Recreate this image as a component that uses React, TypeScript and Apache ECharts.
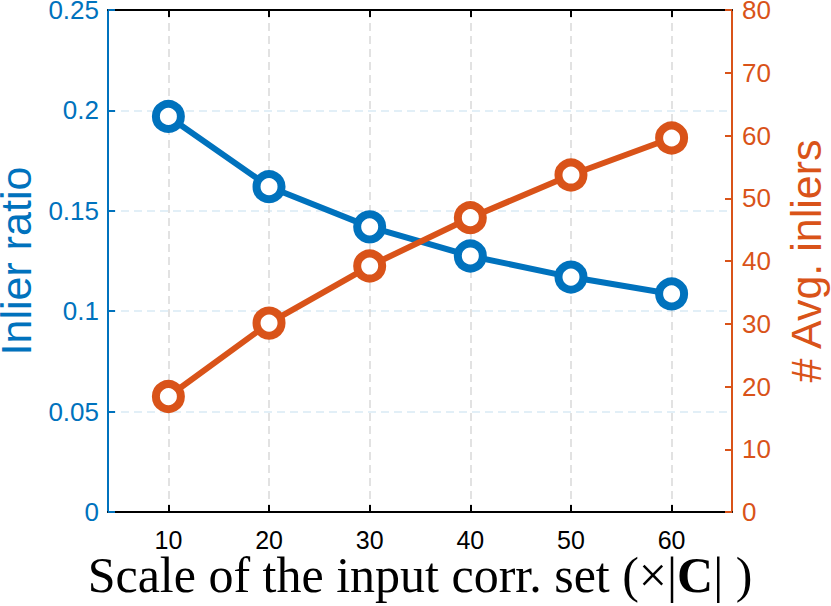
import React, { useEffect, useRef } from "react";
import * as echarts from "echarts";

const xValues = [10, 20, 30, 40, 50, 60];
const inlierRatio = [0.197, 0.162, 0.142, 0.1275, 0.117, 0.1086];
const avgInliers = [18.4, 30.1, 39.2, 46.9, 53.7, 59.6];
const xTicks = [10, 20, 30, 40, 50, 60];

const BLUE = "#0072BD";
const ORANGE = "#D95319";
const SANS = "Liberation Sans";
const SERIF = "Liberation Serif";

export default function App() {
  const ref = useRef<HTMLDivElement>(null);
  useEffect(() => {
    if (!ref.current) return;
    const chart = echarts.init(ref.current, undefined, { renderer: "svg" });
    const tickStyle = { inside: true, length: 7 };
    chart.setOption({
      animation: false,
      backgroundColor: "#ffffff",
      grid: {
        left: 108,
        right: 99,
        top: 10,
        bottom: 94,
        containLabel: false,
        outerBoundsMode: "none",
      },
      graphic: [
        {
          type: "text",
          z: 10,
          style: {
            x: 420,
            y: 575,
            align: "center",
            verticalAlign: "middle",
            text: "{a|Scale of the input corr. set (×|}{b|C}{a|| )}",
            rich: {
              a: { fontFamily: SERIF, fontSize: 50, lineHeight: 44, fill: "#000", color: "#000" },
              b: { fontFamily: SERIF, fontSize: 50, lineHeight: 44, fontWeight: "bold", fill: "#000", color: "#000" },
            },
          },
        },
      ],
      xAxis: [
        {
          type: "value",
          min: 4,
          max: 66,
          position: "bottom",
          axisLine: { show: true, onZero: false, lineStyle: { color: "#000", width: 2 } },
          axisTick: { ...tickStyle, customValues: xTicks, lineStyle: { color: "#000", width: 2 } },
          axisLabel: {
            customValues: xTicks,
            color: "#000",
            fontFamily: SANS,
            fontSize: 25,
            lineHeight: 22,
            margin: 17,
          },
          splitLine: {
            show: true,
            lineStyle: { color: "#d9d9d9", width: 1.5, type: [8, 5] },
          },
        },
        {
          type: "value",
          min: 4,
          max: 66,
          position: "top",
          axisLine: { show: true, onZero: false, lineStyle: { color: "#000", width: 2 } },
          axisTick: { ...tickStyle, customValues: xTicks, lineStyle: { color: "#000", width: 2 } },
          axisLabel: { show: false, customValues: xTicks },
          splitLine: { show: false },
        },
      ],
      yAxis: [
        {
          type: "value",
          min: 0,
          max: 0.25,
          interval: 0.05,
          position: "left",
          axisLine: { show: true, onZero: false, lineStyle: { color: BLUE, width: 2 } },
          axisTick: { ...tickStyle, lineStyle: { color: BLUE, width: 2 } },
          axisLabel: { color: BLUE, fontFamily: SANS, fontSize: 26, lineHeight: 20, margin: 9 },
          splitLine: {
            show: true,
            lineStyle: { color: "#d9eaf5", width: 1.5, type: [8, 5] },
          },
          name: "Inlier ratio",
          nameLocation: "middle",
          nameRotate: 90,
          nameGap: 65,
          nameTextStyle: { color: BLUE, fontFamily: SANS, fontSize: 43, lineHeight: 34 },
        },
        {
          type: "value",
          min: 0,
          max: 80,
          interval: 10,
          position: "right",
          axisLine: { show: true, onZero: false, lineStyle: { color: ORANGE, width: 2 } },
          axisTick: { ...tickStyle, lineStyle: { color: ORANGE, width: 2 } },
          axisLabel: { color: ORANGE, fontFamily: SANS, fontSize: 26, lineHeight: 20, margin: 10 },
          splitLine: { show: false },
          name: "# Avg. inliers",
          nameLocation: "middle",
          nameRotate: 90,
          nameGap: 52,
          nameTextStyle: { color: ORANGE, fontFamily: SANS, fontSize: 43 },
        },
      ],
      series: [
        {
          type: "line",
          xAxisIndex: 0,
          yAxisIndex: 0,
          data: xValues.map((x, i) => [x, inlierRatio[i]]),
          symbol: "circle",
          symbolSize: 25,
          showAllSymbol: true,
          lineStyle: { color: BLUE, width: 6 },
          itemStyle: { color: "#ffffff", borderColor: BLUE, borderWidth: 8 },
          z: 3,
        },
        {
          type: "line",
          xAxisIndex: 0,
          yAxisIndex: 1,
          data: xValues.map((x, i) => [x, avgInliers[i]]),
          symbol: "circle",
          symbolSize: 25,
          showAllSymbol: true,
          lineStyle: { color: ORANGE, width: 6 },
          itemStyle: { color: "#ffffff", borderColor: ORANGE, borderWidth: 8 },
          z: 4,
        },
      ],
    });
    return () => chart.dispose();
  }, []);
  return (
    <div
      ref={ref}
      style={{ position: "fixed", left: 0, top: 0, width: 831, height: 606 }}
    />
  );
}
